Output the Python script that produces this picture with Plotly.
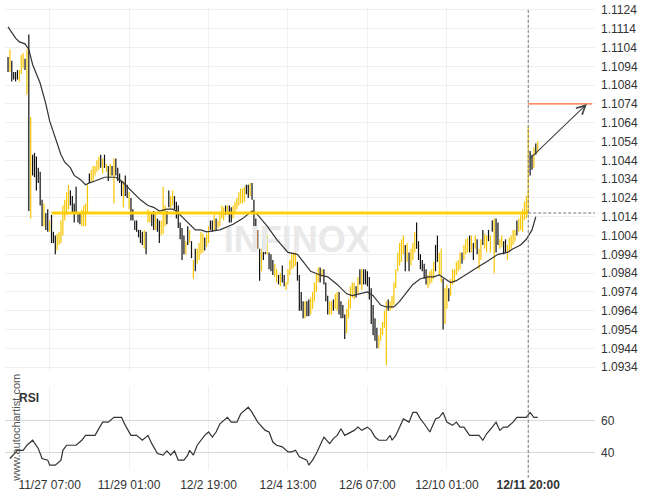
import plotly.graph_objects as go

# ---------------- data (hourly bars, index 0 = first bar) ----------------
bar_open = [
    1.1099, 1.1091, 1.1097, 1.1091, 1.1091, 1.1092, 1.1086, 1.1090, 1.1093, 1.1098,
    1.1079, 1.1111, 1.1013, 1.1047, 1.1048, 1.1046, 1.1040, 1.1038, 1.1023, 1.1009,
    1.1016, 1.1018, 1.1006, 1.1015, 1.1006, 1.1004, 1.0996, 1.0999, 1.1000, 1.1004,
    1.1012, 1.1015, 1.1018, 1.1028, 1.1025, 1.1021, 1.1030, 1.1016, 1.1016, 1.1009,
    1.1009, 1.1009, 1.1016, 1.1037, 1.1033, 1.1033, 1.1036, 1.1038, 1.1039, 1.1047,
    1.1037, 1.1047, 1.1038, 1.1041, 1.1035, 1.1041, 1.1021, 1.1045, 1.1040, 1.1037,
    1.1033, 1.1019, 1.1036, 1.1031, 1.1018, 1.1024, 1.1018, 1.1012, 1.1012, 1.1007,
    1.1007, 1.1006, 1.0997, 1.1006, 1.1011, 1.1011, 1.1016, 1.1017, 1.1007, 1.1013,
    1.1012, 1.1004, 1.1005, 1.1009, 1.1017, 1.1028, 1.1018, 1.1020, 1.1025, 1.1022,
    1.1020, 1.1011, 1.1008, 1.1004, 1.0994, 1.1009, 1.1000, 1.1001, 1.0981, 1.0997,
    1.0989, 1.0991, 1.0994, 1.0995, 1.1003, 1.0998, 1.1000, 1.1012, 1.1012, 1.1007,
    1.1013, 1.1008, 1.1009, 1.1013, 1.1012, 1.1020, 1.1015, 1.1020, 1.1019, 1.1013,
    1.1016, 1.1018, 1.1020, 1.1021, 1.1021, 1.1022, 1.1031, 1.1031, 1.1025, 1.1032,
    1.1023, 1.1013, 1.1007, 1.0997, 1.0985, 1.1003, 1.1002, 1.0994, 1.0995, 1.0994,
    1.0991, 1.0982, 1.0979, 1.0983, 1.0977, 1.0988, 1.0983, 1.0975, 1.0978, 1.0983,
    1.0986, 1.0987, 1.0988, 1.0990, 1.0983, 1.0974, 1.0969, 1.0960, 1.0969, 1.0970,
    1.0962, 1.0965, 1.0969, 1.0974, 1.0979, 1.0987, 1.0982, 1.0986, 1.0979, 1.0972,
    1.0962, 1.0962, 1.0970, 1.0965, 1.0964, 1.0974, 1.0969, 1.0967, 1.0962, 1.0952,
    1.0960, 1.0965, 1.0971, 1.0970, 1.0977, 1.0973, 1.0986, 1.0975, 1.0986, 1.0986,
    1.0985, 1.0982, 1.0976, 1.0967, 1.0960, 1.0955, 1.0944, 1.0948, 1.0951, 1.0955,
    1.0935, 1.0970, 1.0964, 1.0965, 1.0967, 1.0976, 1.0985, 1.0988, 1.0990, 1.0994,
    1.0999, 1.0990, 1.0995, 1.0988, 1.0991, 1.0995, 1.1011, 1.1001, 1.0994, 1.0991,
    1.0989, 1.0986, 1.0976, 1.0978, 1.0979, 1.0981, 1.0999, 1.1004, 1.0983, 1.0979,
    1.0981, 1.0957, 1.0965, 1.0976, 1.0972, 1.0978, 1.0979, 1.0983, 1.0985, 1.0986,
    1.0995, 1.0991, 1.0994, 1.0995, 1.1004, 1.0995, 1.1000, 1.0997, 1.1002, 1.0986,
    1.0991, 1.1007, 1.0997, 1.0995, 1.1007, 1.0995, 1.1012, 1.0984, 1.1013, 1.1011,
    1.0997, 1.0998, 1.1001, 1.1002, 1.0991, 1.0995, 1.0997, 1.0999, 1.1001, 1.1012,
    1.1006, 1.1007, 1.1006, 1.1012, 1.1013, 1.1016, 1.1049, 1.1047, 1.1040, 1.1053,
    1.1048,
]
bar_close = [
    1.1091, 1.1103, 1.1086, 1.1087, 1.1086, 1.1087, 1.1092, 1.1100, 1.1101, 1.1092,
    1.1103, 1.1017, 1.1067, 1.1036, 1.1035, 1.1028, 1.1032, 1.1020, 1.1009, 1.1021,
    1.1007, 1.1006, 1.1012, 1.1000, 1.1000, 1.0994, 1.1005, 1.1006, 1.1012, 1.1020,
    1.1023, 1.1027, 1.1031, 1.1020, 1.1016, 1.1011, 1.1016, 1.1011, 1.1010, 1.1018,
    1.1020, 1.1021, 1.1031, 1.1032, 1.1039, 1.1041, 1.1041, 1.1044, 1.1046, 1.1040,
    1.1045, 1.1040, 1.1042, 1.1033, 1.1042, 1.1036, 1.1045, 1.1036, 1.1033, 1.1032,
    1.1025, 1.1033, 1.1025, 1.1024, 1.1027, 1.1012, 1.1012, 1.1007, 1.1006, 1.1003,
    1.1000, 1.0999, 1.1007, 1.0994, 1.1018, 1.1017, 1.1009, 1.1007, 1.1016, 1.1006,
    1.1000, 1.1012, 1.1030, 1.1020, 1.1010, 1.1019, 1.1025, 1.1028, 1.1018, 1.1013,
    1.1008, 1.1002, 1.0991, 1.0994, 1.1001, 1.0999, 1.1007, 1.0992, 1.0991, 1.0985,
    1.0997, 1.1000, 1.1006, 1.1005, 1.0996, 1.1005, 1.1009, 1.1007, 1.1006, 1.1015,
    1.1007, 1.1012, 1.1016, 1.1020, 1.1019, 1.1015, 1.1020, 1.1011, 1.1011, 1.1020,
    1.1022, 1.1024, 1.1027, 1.1029, 1.1029, 1.1030, 1.1026, 1.1024, 1.1032, 1.1023,
    1.1005, 1.1000, 1.0997, 1.0980, 1.0997, 1.0991, 1.0994, 1.1004, 1.0986, 1.0985,
    1.0983, 1.0989, 1.0986, 1.0978, 1.0984, 1.0979, 1.0977, 1.0979, 1.0986, 1.0991,
    1.0994, 1.0995, 1.0995, 1.0980, 1.0964, 1.0964, 1.0960, 1.0969, 1.0961, 1.0961,
    1.0971, 1.0974, 1.0979, 1.0984, 1.0987, 1.0979, 1.0986, 1.0978, 1.0969, 1.0962,
    1.0969, 1.0969, 1.0964, 1.0973, 1.0974, 1.0962, 1.0960, 1.0960, 1.0949, 1.0965,
    1.0970, 1.0977, 1.0979, 1.0979, 1.0971, 1.0982, 1.0978, 1.0986, 1.0978, 1.0978,
    1.0977, 1.0970, 1.0957, 1.0951, 1.0948, 1.0944, 1.0951, 1.0955, 1.0958, 1.0964,
    1.0969, 1.0964, 1.0969, 1.0972, 1.0979, 1.0986, 1.0995, 1.1000, 1.1002, 1.1004,
    1.0985, 1.1000, 1.0985, 1.0997, 1.1000, 1.1006, 1.0997, 1.0991, 1.0986, 1.0985,
    1.0981, 1.0978, 1.0983, 1.0985, 1.0986, 1.0990, 1.0985, 1.0990, 1.0995, 1.0997,
    1.0954, 1.0976, 1.0978, 1.0969, 1.0981, 1.0986, 1.0986, 1.0990, 1.0991, 1.0995,
    1.0989, 1.0999, 1.1002, 1.1003, 1.0995, 1.1004, 1.0991, 1.1004, 1.0994, 1.0997,
    1.1002, 1.0999, 1.1005, 1.1004, 1.1001, 1.1004, 1.1006, 1.1013, 1.0995, 1.0999,
    1.1002, 1.1004, 1.0994, 1.0995, 1.0999, 1.1003, 1.1004, 1.1007, 1.1007, 1.1004,
    1.1013, 1.1015, 1.1018, 1.1022, 1.1025, 1.1062, 1.1036, 1.1039, 1.1051, 1.1047,
    1.1054,
]

# moving average (bar index, price)
ma_x = [0, 4, 6, 9, 11, 13, 17, 20, 22, 25, 28, 30, 33, 35, 38, 41, 43, 46, 49, 51,
        54, 57, 60, 63, 66, 70, 74, 77, 80, 84, 87, 89, 91, 94, 96, 99, 102, 105, 112, 119,
        124, 129, 132, 137, 142, 148, 153, 156, 160, 165, 169, 174, 179, 182, 186, 190, 193, 197, 200, 204,
        207, 211, 214, 218, 222, 225, 228, 231, 234, 237, 243, 248, 253, 259, 264, 267, 271, 274, 277, 279]
ma_y = [1.1115, 1.1109, 1.1107, 1.1106, 1.1103, 1.1095, 1.1085, 1.1074, 1.1065, 1.1056,
        1.1047, 1.1043, 1.1040, 1.1036, 1.1034, 1.1031, 1.1032, 1.1033, 1.1034, 1.1035,
        1.1035, 1.1035, 1.1033, 1.1030, 1.1027, 1.1023, 1.1020, 1.1019, 1.1017, 1.1018,
        1.1018, 1.1017, 1.1015, 1.1012, 1.1010, 1.1007, 1.1007, 1.1006, 1.1007, 1.1010,
        1.1013, 1.1017, 1.1015, 1.1009, 1.1002, 1.0995, 1.0994, 1.0990, 1.0985, 1.0983,
        1.0982, 1.0978, 1.0973, 1.0972, 1.0973, 1.0974, 1.0972, 1.0967, 1.0966, 1.0966,
        1.0969, 1.0974, 1.0978, 1.0981, 1.0982, 1.0982, 1.0983, 1.0981, 1.0979, 1.0980,
        1.0984, 1.0987, 1.0990, 1.0994, 1.0995, 1.0997, 1.0999, 1.1002, 1.1007, 1.1014]

# RSI (bar index, value)
rsi_x = [1, 5, 8, 10, 13, 16, 18, 21, 22, 25, 28, 29, 31, 36, 39, 41, 46, 47, 50, 53,
         56, 60, 62, 65, 68, 71, 74, 76, 79, 82, 84, 86, 88, 90, 93, 95, 96, 98, 100, 104,
         106, 108, 110, 112, 116, 118, 121, 123, 127, 129, 132, 136, 138, 140, 142, 145, 148, 150, 152, 154,
         158, 159, 161, 163, 165, 167, 170, 172, 174, 176, 178, 181, 183, 185, 187, 190, 192, 194, 196, 200,
         202, 203, 205, 207, 209, 212, 214, 216, 218, 220, 223, 226, 228, 230, 232, 235, 237, 239, 241, 244,
         249, 251, 253, 256, 258, 260, 262, 264, 267, 269, 274, 276, 278, 280]
rsi_y = [36.5, 41.6, 41.6, 44.7, 47.8, 42.7, 36.5, 35.5, 32.4, 32.4, 35.5, 41.6, 44.7, 44.7, 47.8, 50.8, 50.8, 52.9, 59.0, 59.0,
         62.0, 62.0, 57.0, 50.8, 50.8, 47.8, 50.8, 45.7, 39.6, 38.6, 41.2, 38.6, 41.2, 35.5, 35.5, 38.6, 41.6, 38.6, 44.7, 50.8,
         52.9, 49.8, 52.9, 58.0, 62.0, 59.0, 59.0, 64.1, 68.2, 65.0, 59.0, 53.9, 52.9, 46.7, 44.7, 43.7, 40.6, 40.6, 41.6, 37.6,
         35.5, 32.4, 35.5, 39.6, 44.7, 49.8, 45.7, 48.8, 50.8, 54.9, 50.8, 52.9, 53.9, 55.9, 53.9, 55.9, 53.9, 49.8, 47.8, 47.8,
         50.8, 47.8, 50.8, 55.9, 61.0, 59.0, 65.0, 65.0, 61.0, 58.0, 52.9, 61.0, 62.0, 65.0, 59.0, 57.0, 59.0, 55.9, 55.9, 50.8,
         50.8, 47.8, 51.8, 55.9, 59.0, 53.9, 55.9, 55.9, 59.0, 62.0, 62.0, 65.0, 62.0, 62.0]

tick_idx = [22, 64, 106, 148, 190, 232, 275]
tick_text = ["11/27 07:00", "11/29 01:00", "12/2 19:00", "12/4 13:00",
             "12/6 07:00", "12/10 01:00", "<b>12/11 20:00</b>"]

resistance_level = 1.1016
resistance_start = 23
signal_idx = 275
target_level = 1.1074
arrow_from = (275, 1.1044)
arrow_to = (306, 1.1074)

# ---------------- figure ----------------
X_RANGE = [-1.59, 310.3]
PRICE_RANGE = [1.093189, 1.112505]
RSI_RANGE = [29.4, 81.4]
FONT = "Liberation Sans, Arial, sans-serif"

n = len(bar_open)
xs = list(range(n))
highs = [max(o, c) for o, c in zip(bar_open, bar_close)]
lows = [min(o, c) for o, c in zip(bar_open, bar_close)]

fig = go.Figure()

# watermark (behind bars)
fig.add_trace(go.Scatter(
    x=[152.7], y=[1.1000], mode="text", text=["<b>INFINOX</b>"],
    textfont=dict(family=FONT, size=36, color="#e9e9e9"),
    hoverinfo="skip", xaxis="x", yaxis="y"))

fig.add_trace(go.Ohlc(
    x=xs, open=bar_open, high=highs, low=lows, close=bar_close,
    increasing=dict(line=dict(color="#F7C600", width=1.2)),
    decreasing=dict(line=dict(color="#111111", width=1.2)),
    tickwidth=0, xaxis="x", yaxis="y", hoverinfo="skip"))

fig.add_trace(go.Scatter(
    x=ma_x, y=ma_y, mode="lines", line=dict(color="#333333", width=1.2),
    xaxis="x", yaxis="y", hoverinfo="skip"))

fig.add_trace(go.Scatter(
    x=rsi_x, y=rsi_y, mode="lines", line=dict(color="#333333", width=1.2),
    xaxis="x2", yaxis="y2", hoverinfo="skip"))

fig.update_layout(
    width=650, height=500,
    margin=dict(l=5, r=55, t=3, b=30),
    paper_bgcolor="white", plot_bgcolor="white",
    showlegend=False,
    font=dict(family=FONT, size=12, color="#333333"),
    xaxis=dict(domain=[0, 1], range=X_RANGE, anchor="y",
               tickvals=tick_idx, showticklabels=False,
               showgrid=True, gridcolor="#f1f1f1", zeroline=False,
               rangeslider=dict(visible=False), fixedrange=True),
    xaxis2=dict(domain=[0, 1], range=X_RANGE, anchor="y2", matches="x",
                tickvals=tick_idx, ticktext=tick_text,
                tickfont=dict(family=FONT, size=12, color="#333333"),
                ticks="", ticklabelstandoff=6,
                showgrid=True, gridcolor="#f1f1f1", zeroline=False),
    yaxis=dict(domain=[0.2141, 1], range=PRICE_RANGE, anchor="x", side="right",
               tick0=1.0934, dtick=0.001, tickformat=".4f",
               tickfont=dict(family=FONT, size=12, color="#333333"),
               ticks="", ticklabelstandoff=5, ticklabeloverflow="allow",
               showgrid=True, gridcolor="#efefef", zeroline=False),
    yaxis2=dict(domain=[0, 0.182], range=RSI_RANGE, anchor="x2", side="right",
                tickvals=[40, 60],
                tickfont=dict(family=FONT, size=12, color="#333333"),
                ticks="", ticklabelstandoff=5,
                showgrid=True, gridcolor="#d9d9d9", zeroline=False),
)

shapes = [
    dict(type="line", xref="x", yref="y", x0=resistance_start, x1=signal_idx,
         y0=resistance_level, y1=resistance_level,
         line=dict(color="rgba(255,206,0,0.95)", width=3)),
    dict(type="line", xref="x", yref="y", x0=signal_idx, x1=X_RANGE[1],
         y0=resistance_level, y1=resistance_level,
         line=dict(color="#777777", width=1, dash="3px,2px")),
    dict(type="line", xref="x", yref="y", x0=signal_idx, x1=308.7,
         y0=target_level, y1=target_level,
         line=dict(color="#FF6B35", width=1.3)),
    dict(type="line", xref="x", yref="paper", x0=signal_idx, x1=signal_idx,
         y0=-0.017, y1=0.9957,
         line=dict(color="#777777", width=1, dash="3px,2px")),
]
fig.update_layout(shapes=shapes)

fig.add_annotation(x=arrow_to[0], y=arrow_to[1], ax=arrow_from[0], ay=arrow_from[1],
                   xref="x", yref="y", axref="x", ayref="y", text="",
                   showarrow=True, arrowhead=5, arrowsize=1.6, arrowwidth=1.1,
                   arrowcolor="#444444")
fig.add_annotation(x=0.0203, y=0.156, xref="paper", yref="paper",
                   xanchor="left", yanchor="middle",
                   text="<b>RSI</b>", showarrow=False,
                   font=dict(family=FONT, size=12, color="#333333"))
fig.add_annotation(x=0.005, y=-0.03, xref="paper", yref="paper",
                   xanchor="left", yanchor="bottom",
                   text="www.autochartist.com", textangle=-90, showarrow=False,
                   font=dict(family=FONT, size=11, color="#555555"))

fig.write_html("out.html", config={"displayModeBar": False},
               post_script="document.body.style.margin='0';document.body.style.overflow='hidden';")
